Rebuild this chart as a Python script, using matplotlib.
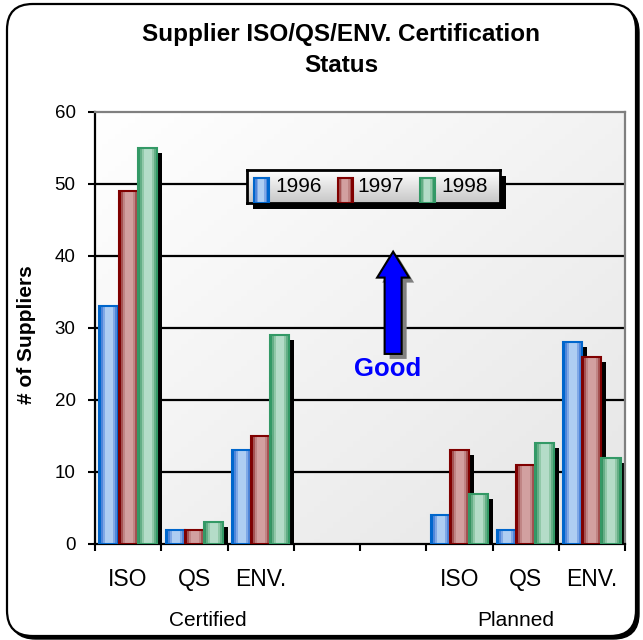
#!/usr/bin/env python3
"""Supplier ISO/QS/ENV certification status - Excel style grouped bar chart."""
import numpy as np
import matplotlib
matplotlib.use('Agg')
import matplotlib.pyplot as plt
from matplotlib.colors import ListedColormap
from matplotlib.patches import Rectangle, FancyBboxPatch, FancyArrow

plt.rcParams['font.family'] = ['Liberation Sans', 'DejaVu Sans']

# Data
categories = ['ISO', 'QS', 'ENV.', '', '', 'ISO', 'QS', 'ENV.']
groups = ['Certified', 'Planned']
years = ['1996', '1997', '1998']
y1996 = [33, 2, 13, np.nan, np.nan, 4, 2, 28]
y1997 = [49, 2, 15, np.nan, np.nan, 13, 11, 26]
y1998 = [55, 3, 29, np.nan, np.nan, 7, 14, 12]

# Stripe colours for each series: dark edge, mid, light-mid, light
PALETTES = [
    ('#0066CC', '#4F86DA', '#80A8E6', '#AECDF2'),
    ('#800000', '#A55252', '#C08585', '#D2A0A0'),
    ('#339966', '#64AE86', '#90C8A8', '#B4DCC8'),
]


def stripe_cmap(pal):
    dark, mid, lm, light = pal
    return ListedColormap([dark, mid, lm, light, light, light, light, lm, mid, dark])


def gradient_bar(ax, x0, w, h, pal, zorder=3):
    grad = np.linspace(0, 1, 10).reshape(1, -1)
    ax.imshow(grad, extent=[x0, x0 + w, 0, h], aspect='auto', cmap=stripe_cmap(pal),
              interpolation='nearest', zorder=zorder, origin='lower')
    ax.add_patch(Rectangle((x0, 0), w, h, fill=False, edgecolor=pal[0], lw=1.5, zorder=zorder + 0.1))


fig = plt.figure(figsize=(6.43, 6.40), dpi=100)
W, H = 643, 640

# Rounded outer frame with a shadow
shadow = FancyBboxPatch((10 / W, 1 - 639 / H), 629 / W, 632 / H,
                        boxstyle='round,pad=0,rounding_size=0.04',
                        transform=fig.transFigure, facecolor='black', edgecolor='black', zorder=0)
frame = FancyBboxPatch((7 / W, 1 - 636 / H), 629 / W, 632 / H,
                       boxstyle='round,pad=0,rounding_size=0.04',
                       transform=fig.transFigure, facecolor='white', edgecolor='black', lw=1.6, zorder=0.1)
fig.patches.extend([shadow, frame])

ax = fig.add_axes([95 / W, 96 / H, 530 / W, 432 / H])
ax.set_zorder(1)

# Plot area gradient background
xx, yy = np.meshgrid(np.linspace(0, 1, 80), np.linspace(0, 1, 80))
shade = 1.0 - 0.10 * (xx + (1 - yy)) / 2
bg = np.dstack([shade, shade, shade])
ax.imshow(bg, extent=[0, 1, 0, 1], transform=ax.transAxes, aspect='auto', zorder=0, origin='lower')

# Horizontal gridlines
for yv in range(10, 60, 10):
    ax.axhline(yv, color='black', lw=1.6, zorder=1)

x = np.arange(len(categories))
bw = 0.29
dx_sh = 5 / 66.25
dy_sh = 5 / 7.2
series = [y1996, y1997, y1998]

# Shadows first (behind all bars)
for i, vals in enumerate(series):
    for xi, v in zip(x, vals):
        if np.isnan(v):
            continue
        x0 = xi + (i - 1) * bw - bw / 2
        ax.add_patch(Rectangle((x0 + dx_sh, -1), bw, v - dy_sh + 1, facecolor='black',
                               edgecolor='none', zorder=2))

for i, vals in enumerate(series):
    for xi, v in zip(x, vals):
        if np.isnan(v):
            continue
        x0 = xi + (i - 1) * bw - bw / 2
        gradient_bar(ax, x0, bw, v, PALETTES[i])

# "Good" arrow with grey shadow
ax.add_patch(FancyArrow(4.0 + dx_sh, 26.4 - dy_sh, 0, 14.2, width=0.257, head_width=0.483,
                        head_length=3.6, length_includes_head=True, facecolor='#808080',
                        edgecolor='none', zorder=5))
ax.add_patch(FancyArrow(4.0, 26.4, 0, 14.2, width=0.257, head_width=0.483,
                        head_length=3.6, length_includes_head=True, facecolor='#0000FF',
                        edgecolor='black', lw=1.5, zorder=6))
ax.text(3.91, 24.3, 'Good', color='#0000FF', fontsize=18.5, fontweight='bold',
        ha='center', va='center', zorder=7)

ax.set_xlim(-0.5, 7.5)
ax.set_ylim(0, 60)

# Axes styling
for side in ['left', 'bottom']:
    ax.spines[side].set_color('black')
    ax.spines[side].set_linewidth(1.6)
for side in ['top', 'right']:
    ax.spines[side].set_color('#808080')
    ax.spines[side].set_linewidth(1.6)

ax.set_yticks(range(0, 61, 10))
ax.tick_params(axis='y', direction='out', length=5, width=1.5, labelsize=13.5, pad=9)
ax.set_xticks(np.arange(-0.5, 8, 1))
ax.set_xticklabels([])
ax.tick_params(axis='x', which='major', direction='out', length=5, width=1.5)
ax.set_xticks(x, minor=True)
ax.set_xticklabels(categories, minor=True)
ax.tick_params(axis='x', which='minor', length=0, labelsize=16.5, pad=17)

# Group labels
ax.text(1.21, -10.6, groups[0], fontsize=15, ha='center', va='center')
ax.text(5.85, -10.6, groups[1], fontsize=15, ha='center', va='center')

# Title and y label
fig.text(341.5 / W, 1 - 50 / H, 'Supplier ISO/QS/ENV. Certification\nStatus', fontsize=17.5,
         fontweight='bold', ha='center', va='center', linespacing=1.45)
fig.text(27 / W, 1 - 335 / H, '# of Suppliers', fontsize=15, fontweight='bold',
         rotation=90, ha='center', va='center')

# Custom legend with gradient box and shadow
lx0, ly0, lw_, lh_ = 247, 203, 253, 33
fig.patches.append(Rectangle(((lx0 + 6) / W, 1 - (ly0 + 6) / H), lw_ / W, lh_ / H,
                             transform=fig.transFigure, facecolor='black', zorder=4))
lax = fig.add_axes([lx0 / W, 1 - ly0 / H, lw_ / W, lh_ / H])
lax.set_zorder(5)
lgrad = np.linspace(0.78, 1.0, 40).reshape(-1, 1)
lax.imshow(np.dstack([lgrad, lgrad, lgrad]), extent=[0, lw_, 0, lh_], aspect='auto',
           origin='lower', zorder=0)
lax.set_xlim(0, lw_)
lax.set_ylim(0, lh_)
lax.set_xticks([])
lax.set_yticks([])
for s in lax.spines.values():
    s.set_linewidth(2)
    s.set_color('black')
for i, (sx, tx) in enumerate([(7, 28), (91, 110), (173, 194)]):
    gradient_bar(lax, sx, 15, 25, PALETTES[i])
    lax.text(tx, 16.5, years[i], fontsize=15, ha='left', va='center')

fig.savefig('out.png', dpi=100)
